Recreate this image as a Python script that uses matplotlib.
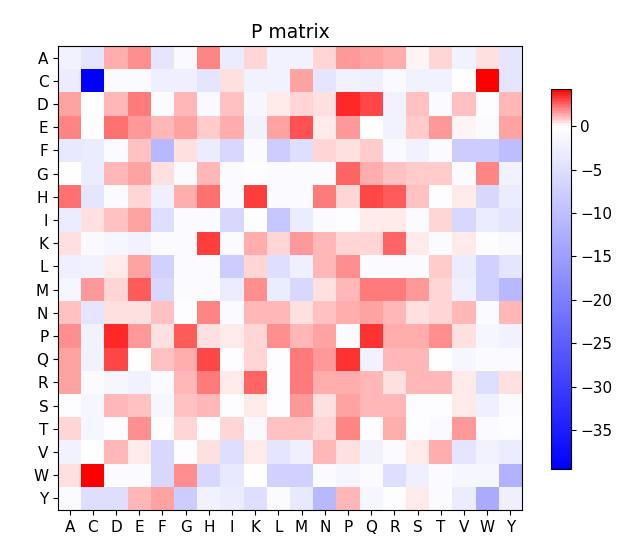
import numpy as np
import matplotlib
matplotlib.use("Agg")
import matplotlib.pyplot as plt
from matplotlib.colors import LinearSegmentedColormap, Normalize

residues = ["A", "C", "D", "E", "F", "G", "H", "I", "K", "L",
            "M", "N", "P", "Q", "R", "S", "T", "V", "W", "Y"]

row_A = [-2, -4, 1.3, 1.9, -4, -1, 2.0, -3, 0.6, -2, -2, 0.7, 1.6, 1.4, 1.3, 0.1, 0.6, -2, 0.4, -4]
row_C = [-3, -39.5, -0.5, -0.5, -2.5, -2.5, -4, 0.4, -2, -2, 1.5, -4, -2, -2.5, -1, -2, -2, 0.0, 4.3, -4]
row_D = [1.4, 0.0, 1.2, 2.2, -0.5, 1.1, -1, 0.9, -1.5, 0.3, 0.7, 0.4, 3.5, 3.0, -2, 1.0, -0.5, 1.0, -0.3, 1.1]
row_E = [2.0, 0.0, 2.3, 1.6, 1.2, 1.4, 0.8, 1.3, -2, 1.4, 2.8, 0.3, 1.6, 0.0, -2, 0.8, 1.7, 0.1, -0.5, 1.5]
row_F = [-3.5, -3, -0.5, 1.0, -11, 0.4, -3, -6, -0.5, -8, -5, 0.7, 0.4, 0.8, -1, -2, -0.5, -8, -8, -10]
row_G = [0.0, -3, 1.1, 1.5, 0.4, -0.5, 1.2, -0.5, -0.3, -0.5, -0.5, -0.5, 2.5, 1.3, 1.0, 0.8, 0.8, -0.5, 2.0, -2]
row_H = [2.4, -4, -0.5, 0.7, -2.5, 1.3, 2.3, -0.5, 3.2, -0.5, -0.5, 2.2, 0.6, 3.0, 2.6, 0.9, -0.3, 0.3, -6, -3]
row_I = [-3, 0.4, 0.9, 1.4, -5, -0.5, -0.5, -6, -0.3, -9, -3, -0.5, -0.3, 0.2, 0.2, -0.5, 0.6, -6, -3, -4]
row_K = [0.5, -1, -1.5, -2, -0.5, -0.5, 3.2, -0.5, 1.3, 0.7, 1.7, 1.1, 0.6, 0.6, 2.5, 0.2, -0.8, 0.2, -0.3, -1]
row_L = [-2.5, -2, 0.3, 1.4, -7, -0.5, -0.5, -8, 0.6, -5, -2.5, 1.1, 1.8, -0.5, -0.5, -0.5, 0.8, -3, -7, -4]
row_M = [-1.5, 1.6, 0.7, 2.7, -6, -0.5, -0.5, -3, 1.9, -3, -6, 0.4, 1.1, 2.1, 2.2, 1.6, 0.7, -2.5, -7, -11]
row_N = [0.9, -4, 0.4, 0.4, 0.9, -0.3, 2.0, -0.5, 1.2, 1.2, 0.4, 0.9, 1.3, 1.4, 1.1, 0.4, 0.6, 1.2, -0.5, 1.2]
row_P = [1.8, -2, 3.5, 1.6, 0.5, 2.6, 0.5, 0.2, 0.6, 1.9, 1.2, 1.4, -0.5, 3.4, 1.3, 1.3, 1.8, 0.5, -1.5, -2]
row_Q = [1.5, -2, 3.0, 0.0, 1.0, 1.3, 3.0, -0.3, 0.6, -0.3, 2.1, 1.6, 3.3, -2, 1.2, 1.2, 0.0, -1.5, -0.5, -0.5]
row_R = [1.5, -0.5, -1.5, -2, -0.5, 1.1, 2.1, 0.3, 2.5, -0.3, 2.1, 1.3, 1.3, 1.2, 0.4, 1.2, 1.2, 0.2, -5, 0.4]
row_S = [-0.3, -1.5, 1.1, 1.0, -1.5, 1.0, 1.1, -0.3, 0.3, -0.3, 1.7, 0.4, 1.4, 1.2, 1.1, -0.3, -0.3, 0.2, -2.5, -0.5]
row_T = [0.6, -1.5, -0.3, 1.9, -0.3, 0.7, -0.2, 0.7, -1, 0.9, 0.9, 0.6, 2.0, -0.3, 1.3, -0.3, -1, 1.6, -0.5, -0.3]
row_V = [-2, 0.0, 1.2, 0.3, -6, -0.3, 0.4, -5, 0.3, -4, -2.5, 1.1, 0.5, -2, -0.5, 0.2, 1.3, -4, -2, -3]
row_W = [0.4, 4.3, -0.5, -0.8, -6, 1.9, -6, -3.5, 0.0, -7, -7, -0.5, -1.5, -0.5, -5, -2.5, -0.5, -1.5, -1.5, -12]
row_Y = [-0.5, -5, -5, 1.1, 1.4, -8, -2, -3, -5, -0.8, -3.5, -11, 1.1, -1.5, -0.3, 0.3, -0.5, -3, -13, -2.5]

P = np.array([row_A, row_C, row_D, row_E, row_F, row_G, row_H, row_I, row_K, row_L,
              row_M, row_N, row_P, row_Q, row_R, row_S, row_T, row_V, row_W, row_Y])

vmin, vmax = P.min(), P.max()
mid = (0 - vmin) / (vmax - vmin)
cmap = LinearSegmentedColormap.from_list(
    "blue_white_red", [(0.0, (0, 0, 1)), (mid, (1, 1, 1)), (1.0, (1, 0, 0))])

fig = plt.figure(figsize=(6.42, 5.55), dpi=100)
ax = fig.add_axes([0.0903, 0.0811, 0.7227, 0.8360])
im = ax.imshow(P, cmap=cmap, norm=Normalize(vmin=vmin, vmax=vmax),
               interpolation="nearest", aspect="auto")
ax.set_xticks(range(len(residues)))
ax.set_xticklabels(residues)
ax.set_yticks(range(len(residues)))
ax.set_yticklabels(residues)
ax.tick_params(labelsize=11)
ax.set_title("P matrix", fontsize=13.5)

cax = fig.add_axes([0.858, 0.155, 0.031, 0.685])
cb = fig.colorbar(im, cax=cax)
cb.set_ticks([0, -5, -10, -15, -20, -25, -30, -35])
cb.ax.tick_params(labelsize=11)

fig.savefig("out.png", dpi=100)
